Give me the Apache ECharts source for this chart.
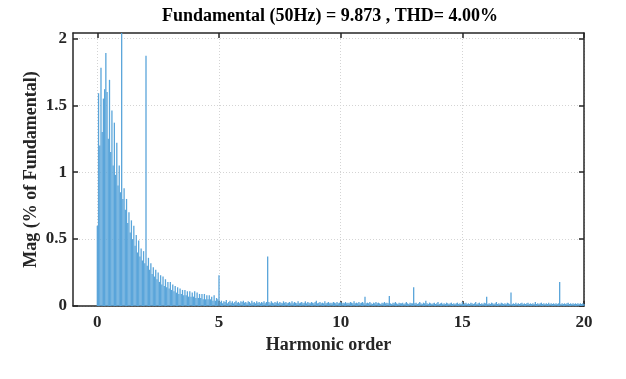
<!DOCTYPE html>
<html>
<head>
<meta charset="utf-8">
<script src="https://cdn.jsdelivr.net/npm/echarts@6/dist/echarts.min.js"></script>
<style>html,body{margin:0;padding:0;background:#fff}#c{width:626px;height:379px}</style>
</head>
<body>
<div id="c"></div>
<script>
// Harmonic-order sampling step of the spectrum (orders 0 .. 20)
var orderStep = 0.05;
// Magnitudes (% of fundamental), one value per step
var mag0to5 = [0.60,1.59,1.20,1.78,1.30,1.55,1.62,1.89,1.60,1.25,1.69,1.15,1.46,1.05,1.37,0.98,1.22,0.90,1.05,0.85,
  100,0.80,0.88,0.72,0.80,0.62,0.70,0.55,0.64,0.50,0.60,0.45,0.53,0.40,0.49,0.37,0.43,0.34,0.41,0.32,
  1.87,0.30,0.36,0.27,0.32,0.24,0.29,0.22,0.27,0.20,0.25,0.18,0.23,0.16,0.22,0.15,0.20,0.14,0.18,0.13,
  0.18,0.12,0.16,0.11,0.15,0.10,0.14,0.09,0.13,0.09,0.12,0.08,0.12,0.08,0.11,0.07,0.11,0.07,0.10,0.07,
  0.11,0.06,0.10,0.06,0.09,0.06,0.09,0.05,0.09,0.05,0.08,0.05,0.08,0.05,0.07,0.04,0.08,0.04,0.06,0.05,
  0.23];
var mag5to10 = [0.03,0.04,0.02,0.035,0.03,0.045,0.02,0.03,0.04,0.025,0.035,0.02,0.03,0.04,0.025,0.03,0.02,0.035,0.03,0.04,
  0.025,0.03,0.02,0.035,0.03,0.02,0.04,0.025,0.03,0.02,0.035,0.025,0.03,0.02,0.03,0.025,0.035,0.02,0.03,0.37,
  0.03,0.02,0.035,0.025,0.02,0.03,0.025,0.035,0.02,0.03,0.025,0.02,0.035,0.025,0.03,0.02,0.025,0.03,0.02,0.035,
  0.02,0.03,0.025,0.02,0.035,0.02,0.025,0.03,0.02,0.025,0.035,0.02,0.03,0.025,0.02,0.03,0.025,0.02,0.03,0.04,
  0.02,0.025,0.03,0.02,0.025,0.02,0.035,0.02,0.025,0.03,0.02,0.025,0.02,0.03,0.025,0.02,0.03,0.02,0.025,0.03];
var mag10to15 = [0.02,0.025,0.02,0.03,0.02,0.025,0.02,0.03,0.025,0.02,0.035,0.02,0.025,0.02,0.03,0.02,0.025,0.03,0.02,0.07,
  0.02,0.025,0.02,0.03,0.02,0.015,0.025,0.02,0.03,0.02,0.025,0.02,0.015,0.025,0.02,0.03,0.02,0.025,0.02,0.075,
  0.02,0.015,0.025,0.02,0.03,0.02,0.015,0.025,0.02,0.02,0.025,0.015,0.02,0.03,0.02,0.015,0.025,0.02,0.02,0.14,
  0.02,0.025,0.015,0.02,0.03,0.02,0.015,0.025,0.02,0.04,0.02,0.015,0.025,0.02,0.015,0.02,0.025,0.015,0.02,0.03,
  0.015,0.02,0.025,0.015,0.02,0.015,0.025,0.02,0.015,0.02,0.025,0.015,0.02,0.015,0.02,0.025,0.015,0.02,0.015,0.03];
var mag15to20 = [0.015,0.02,0.025,0.015,0.02,0.015,0.025,0.02,0.015,0.02,0.03,0.015,0.02,0.025,0.015,0.02,0.015,0.025,0.02,0.07,
  0.015,0.02,0.015,0.025,0.02,0.015,0.02,0.03,0.015,0.02,0.015,0.025,0.02,0.015,0.02,0.015,0.025,0.02,0.015,0.10,
  0.015,0.02,0.015,0.025,0.015,0.02,0.015,0.02,0.025,0.015,0.02,0.015,0.02,0.025,0.015,0.02,0.015,0.02,0.015,0.03,
  0.015,0.02,0.015,0.02,0.025,0.015,0.02,0.015,0.02,0.015,0.025,0.015,0.02,0.015,0.02,0.015,0.02,0.015,0.02,0.18,
  0.015,0.02,0.015,0.02,0.015,0.02,0.025,0.015,0.02,0.015,0.02,0.015,0.02,0.015,0.02,0.015,0.02,0.015,0.02,0.015];
var xTickLabels = [0, 5, 10, 15, 20];
var yTickLabels = [0, 0.5, 1, 1.5, 2];
var titleText = 'Fundamental (50Hz) = 9.873 , THD= 4.00%';

var mags = mag0to5.concat(mag5to10, mag10to15, mag15to20);
var data = mags.map(function (m, i) { return [+(i * orderStep).toFixed(2), m]; });

var font = 'Liberation Serif';
var axisCol = '#262626';
var gridLine = { show: true, lineStyle: { color: '#d4d4d4', type: [1, 2], width: 1 } };

var chart = echarts.init(document.getElementById('c'), null, { renderer: 'canvas' });
chart.setOption({
  animation: false,
  backgroundColor: '#fff',
  title: {
    text: titleText, left: 325, textAlign: 'center', top: 2,
    textStyle: { fontFamily: font, fontWeight: 'bold', fontSize: 18, color: '#000' }
  },
  grid: { left: 73, right: 42, top: 33, bottom: 73 },
  xAxis: [{
    type: 'value', min: -1, max: 20, interval: 1, position: 'bottom',
    name: 'Harmonic order', nameLocation: 'middle', nameGap: 30, nameMoveOverlap: false,
    nameTextStyle: { fontFamily: font, fontWeight: 'bold', fontSize: 18, color: '#262626' },
    axisLine: { show: true, onZero: false, lineStyle: { color: axisCol, width: 1.5 } },
    axisTick: { show: true, inside: true, length: 5, customValues: xTickLabels, lineStyle: { color: axisCol, width: 1.5 } },
    axisLabel: { customValues: xTickLabels, margin: 8, fontFamily: font, fontWeight: 'bold', fontSize: 17, color: '#262626' },
    splitLine: gridLine
  }, {
    type: 'value', min: -1, max: 20, interval: 1, position: 'top',
    axisLine: { show: true, onZero: false, lineStyle: { color: axisCol, width: 1.5 } },
    axisTick: { show: true, inside: true, length: 5, customValues: xTickLabels, lineStyle: { color: axisCol, width: 1.5 } },
    axisLabel: { show: false }, splitLine: { show: false }
  }],
  yAxis: [{
    type: 'value', min: 0, max: 2.04, interval: 0.1, position: 'left',
    name: 'Mag (% of Fundamental)', nameLocation: 'middle', nameGap: 33, nameMoveOverlap: false,
    nameTextStyle: { fontFamily: font, fontWeight: 'bold', fontSize: 18, color: '#262626' },
    axisLine: { show: true, onZero: false, lineStyle: { color: axisCol, width: 1.5 } },
    axisTick: { show: true, inside: true, length: 5, customValues: yTickLabels, lineStyle: { color: axisCol, width: 1.5 } },
    axisLabel: { customValues: yTickLabels, margin: 6, fontFamily: font, fontWeight: 'bold', fontSize: 17, color: '#262626',
      formatter: function (v) { return String(+v.toFixed(2)); } },
    splitLine: gridLine
  }, {
    type: 'value', min: 0, max: 2.04, interval: 0.1, position: 'right',
    axisLine: { show: true, onZero: false, lineStyle: { color: axisCol, width: 1.5 } },
    axisTick: { show: true, inside: true, length: 5, customValues: yTickLabels, lineStyle: { color: axisCol, width: 1.5 } },
    axisLabel: { show: false }, splitLine: { show: false }
  }],
  series: [{
    type: 'bar', xAxisIndex: 0, yAxisIndex: 0, data: data,
    barWidth: 1.3, clip: true, large: false,
    itemStyle: { color: '#5aa5da' }
  }]
});
</script>
</body>
</html>
